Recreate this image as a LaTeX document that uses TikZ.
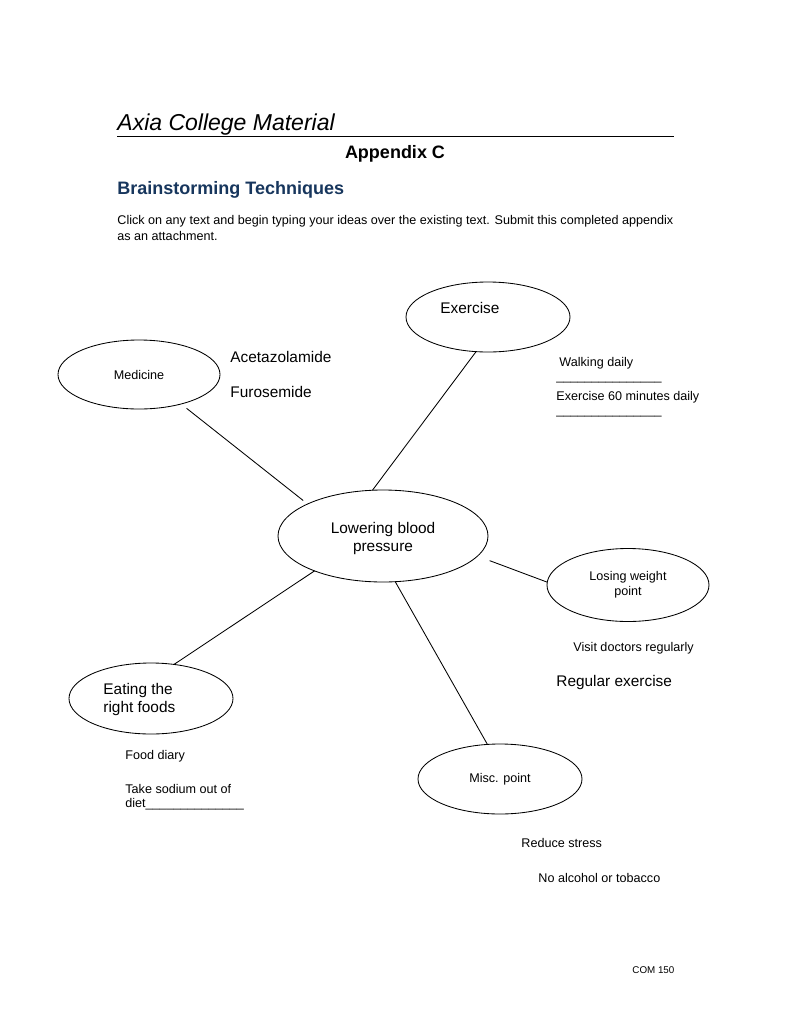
\documentclass[tikz,border=0pt]{standalone}
\usepackage{fontspec}
\setmainfont{Liberation Sans}
\usepackage{tikz}
\usepackage{color}
\usetikzlibrary{calc,shapes}
\definecolor{headblue}{RGB}{23,54,93}
\newcommand{\tikzNoteNode}[4]{
  \node[note,#4] (#1) at (#2) {#3};
}

\begin{document}
\begin{tikzpicture}[x=1pt,y=-1pt,line width=0.85pt,
  bubble/.style={draw,ellipse,inner sep=0pt,outer sep=0pt,align=center},
  note/.style={anchor=base west,inner sep=0pt},
  big/.style={font=\fontsize{15.4}{18}\selectfont},
  mid/.style={font=\fontsize{12.6}{15}\selectfont}]
  \useasboundingbox[fill=white] (0,0) rectangle (791,1023);

  \node[note,font=\fontsize{23}{26}\selectfont\itshape] (axia) at (117,130) {Axia College Material};
  \draw[line width=1.2pt] (117,136.5) -- (674,136.5);
  \node[anchor=base,inner sep=0pt,font=\fontsize{18}{20}\selectfont\bfseries] (app) at (395,158.5) {Appendix C};
  \node[note,text=headblue,font=\fontsize{18}{20}\selectfont\bfseries] (brain) at (117,194.5) {Brainstorming Techniques};
  \tikzNoteNode{info}{117,224}{Click on any text and begin typing your ideas over the existing text. Submit this completed appendix}{mid}
  \tikzNoteNode{info2}{117,240}{as an attachment.}{mid}

  \node[bubble,minimum width=210pt,minimum height=92pt] (ctr) at (383,536) {};
  \node[big,inner sep=0pt,align=center] (ctrT) at (383,539) {Lowering blood\\pressure};
  \node[bubble,minimum width=162pt,minimum height=69pt] (med) at (139,374.5) {};
  \node[mid,inner sep=0pt] (medT) at (med) {Medicine};
  \node[bubble,minimum width=164pt,minimum height=70pt] (exc) at (488,317) {};
  \tikzNoteNode{excT}{440,313}{Exercise}{big}
  \node[bubble,mid,minimum width=162pt,minimum height=73pt] (lose) at (628,585) {Losing weight\\point};
  \node[bubble,minimum width=164pt,minimum height=71pt] (eat) at (151,698.5) {};
  \node[big,anchor=west,inner sep=0pt,align=left] (eatT) at (103,700) {Eating the\\right foods};
  \node[bubble,mid,minimum width=164pt,minimum height=70pt] (misc) at (500,779) {Misc. point};

  \path (med.-35.5) edge[shorten <=7pt,shorten >=5.6pt] (ctr.157.6);
  \path (exc.-109.1) edge (ctr.103.5);
  \path (ctr.-12.9) edge[shorten <=13pt] (lose.178.4);
  \path (eat.56.9) edge (ctr.-153.1);
  \path (ctr.-75.6) edge (misc.110.2);

  \tikzNoteNode{acet}{230,362}{Acetazolamide}{big}
  \tikzNoteNode{furo}{230,397}{Furosemide}{big}
  \tikzNoteNode{walk}{559,366}{Walking daily}{mid}
  \tikzNoteNode{blank1}{556,380}{\_\_\_\_\_\_\_\_\_\_\_\_\_\_\_}{mid}
  \tikzNoteNode{sixty}{556,400}{Exercise 60 minutes daily}{mid}
  \tikzNoteNode{blank2}{556,414}{\_\_\_\_\_\_\_\_\_\_\_\_\_\_\_}{mid}
  \tikzNoteNode{visit}{573,651}{Visit doctors regularly}{mid}
  \tikzNoteNode{regex}{556,686}{Regular exercise}{big}
  \tikzNoteNode{diary}{125,759}{Food diary}{mid}
  \tikzNoteNode{sod}{125,793}{Take sodium out of}{mid}
  \tikzNoteNode{diet}{125,807}{diet\_\_\_\_\_\_\_\_\_\_\_\_\_\_}{mid}
  \tikzNoteNode{stress}{521,847}{Reduce stress}{mid}
  \tikzNoteNode{alc}{538,882}{No alcohol or tobacco}{mid}
  \tikzNoteNode{com}{632,973}{COM 150}{font=\fontsize{9.8}{12}\selectfont}
\end{tikzpicture}
\end{document}
